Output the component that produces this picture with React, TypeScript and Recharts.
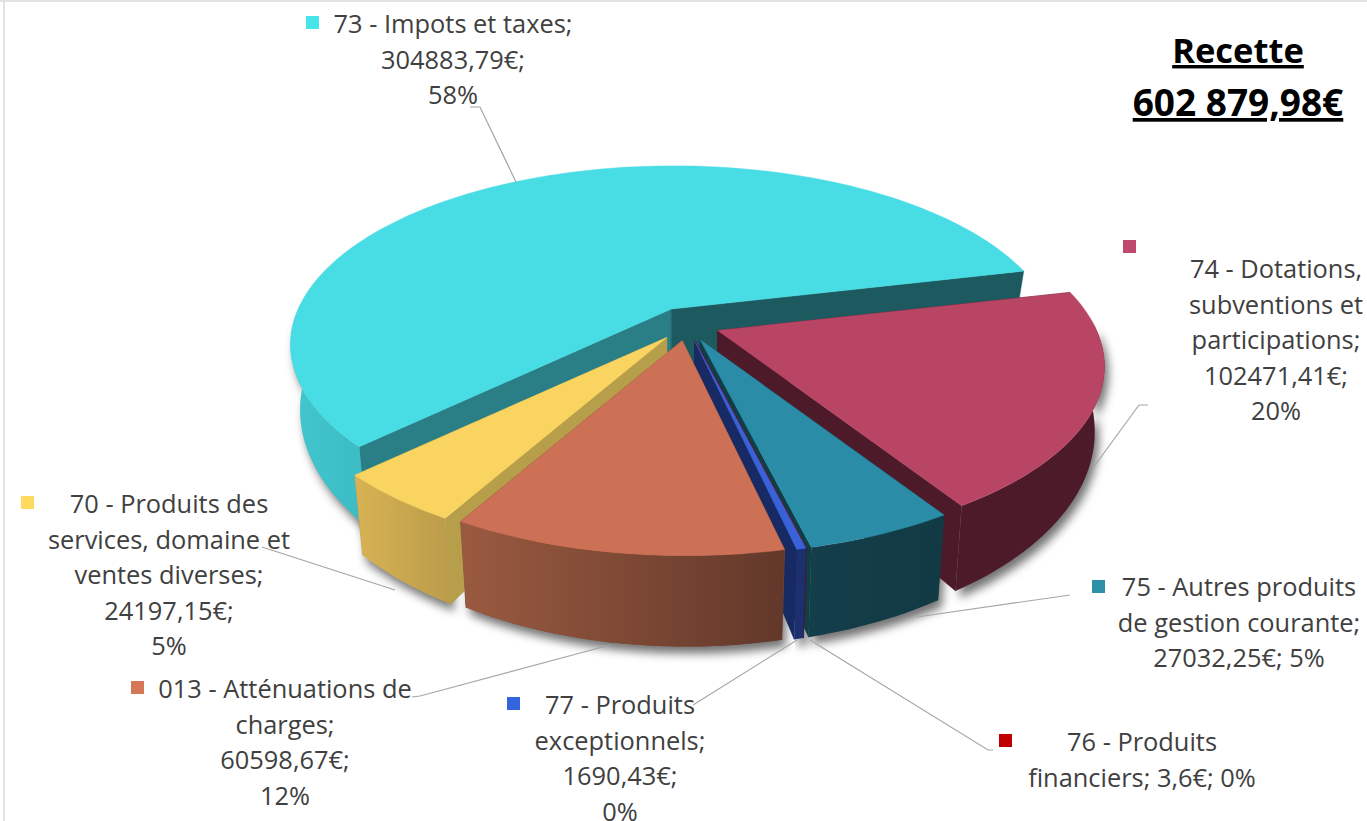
import { Pie, PieChart } from "recharts";

const categories = [
	"73 - Impots et taxes",
	"74 - Dotations, subventions et participations",
	"75 - Autres produits de gestion courante",
	"76 - Produits financiers",
	"77 - Produits exceptionnels",
	"013 - Atténuations de charges",
	"70 - Produits des services, domaine et ventes diverses",
];
const amounts = [304883.79, 102471.41, 27032.25, 3.6, 1690.43, 60598.67, 24197.15];
const labelLines = [
	["73 - Impots et taxes;", "304883,79€;", "58%"],
	["74 - Dotations,", "subventions et", "participations;", "102471,41€;", "20%"],
	["75 - Autres produits", "de gestion courante;", "27032,25€; 5%"],
	["76 - Produits", "financiers; 3,6€; 0%"],
	["77 - Produits", "exceptionnels;", "1690,43€;", "0%"],
	["013 - Atténuations de", "charges;", "60598,67€;", "12%"],
	["70 - Produits des", "services, domaine et", "ventes diverses;", "24197,15€;", "5%"],
];
const titleLines = ["Recette", "602 879,98€"];

const topColors = ["#48dce4", "#b94565", "#2a8ca6", "#c00000", "#3a62d8", "#cc7155", "#fad461"];
const markerColors = ["#48e4ec", "#c04a6e", "#2b90a8", "#c00000", "#3366dd", "#d7775a", "#fedb5e"];
const wallFrom = ["#42c6ce", "#4d1a2a", "#143e49", "#7a0000", "#1c3070", "#9a5a40", "#d7b354"];
const wallTo = ["#3cbcc4", "#4d1a2a", "#113a45", "#7a0000", "#1c3070", "#62382a", "#bb9c4a"];
const startWall = ["#2a7f86", "#4d1a2a", "#0f3d48", "#7a0000", "#172a63", "#7a4a38", "#b79e4a"];
const endWall = ["#1c5a60", "#4d1a2a", "#0f3d48", "#7a0000", "#172a63", "#7a4a38", "#b79e4a"];

// text block centre, first baseline, marker corner, leader line, one entry per slice
const labelLayout = [
	{ x: 453, y: 33, mx: 306, my: 16, line: "470,107 480,107 516,182" },
	{ x: 1276, y: 278, mx: 1123, my: 240, line: "1148,405 1139,405 1093,468" },
	{ x: 1239, y: 596, mx: 1092, my: 580, line: "1070,595 917,617" },
	{ x: 1142, y: 751, mx: 999, my: 734, line: "993,750 988,750 810,640" },
	{ x: 620, y: 714, mx: 507, my: 697, line: "693,705 797,640" },
	{ x: 285, y: 698, mx: 131, my: 681, line: "412,697 420,696 610,645" },
	{ x: 169, y: 513, mx: 21, my: 496, line: "262,547 395,590" },
];

const chartData = categories.map((name, i) => ({ name, value: amounts[i] }));

const ORANGE = 5;
const TILT = 0.457;
const PERSPECTIVE = 0.2;
const SIDE_PERSPECTIVE = 0.008;
const DEPTH_NEAR = 95;
const DEPTH_CENTRE = 60;
const FRONT_REACH = 207;
const DEPTH_SCALE = 0.975;
const EXPLODE_X = 33;
const EXPLODE_Y = 17;
const FONT = "'Open Sans', sans-serif";

type Pt = [number, number];

function toPath(points: Pt[]) {
	return "M" + points.map((p) => `${p[0].toFixed(1)} ${p[1].toFixed(1)}`).join("L") + "Z";
}

function sliceGeometry(props: any) {
	const { cx, cy, outerRadius, startAngle, endAngle } = props;
	const mid = (((startAngle + endAngle) / 2) * Math.PI) / 180;
	const apex: Pt = [cx + EXPLODE_X * Math.cos(mid), cy - EXPLODE_Y * Math.sin(mid)];
	const steps = Math.ceil(Math.abs(startAngle - endAngle) / 1.5) + 1;
	const rim: Pt[] = [];
	const front: Pt[] = [];
	for (let i = 0; i <= steps; i++) {
		const a = ((startAngle + ((endAngle - startAngle) * i) / steps) * Math.PI) / 180;
		const u = Math.cos(a);
		const v = -Math.sin(a);
		const w = 1 - PERSPECTIVE * v - SIDE_PERSPECTIVE * u;
		const p: Pt = [apex[0] + (outerRadius * u) / w, apex[1] + (outerRadius * TILT * v) / w];
		rim.push(p);
		if (v > -0.05) front.push(p);
	}
	// walls get shorter towards the back of the pie
	const drop = (p: Pt): Pt => {
		const dy = p[1] - apex[1];
		const depth = DEPTH_CENTRE + ((DEPTH_NEAR - DEPTH_CENTRE) * dy) / FRONT_REACH;
		return [apex[0] + (p[0] - apex[0]) * DEPTH_SCALE, apex[1] + dy * DEPTH_SCALE + depth];
	};
	return { apex, rim, front, drop };
}

function ShadowSlice(props: any) {
	const { front, drop } = sliceGeometry(props);
	const outline = [...front, ...front.map(drop).reverse()];
	return (
		<path
			d={toPath(outline)}
			transform="translate(4 7)"
			fill="#000"
			fillOpacity={0.55}
			filter="url(#pieShadow)"
		/>
	);
}

function Slice3D(props: any) {
	const { index } = props;
	const { apex, rim, front, drop } = sliceGeometry(props);
	const first = rim[0];
	const last = rim[rim.length - 1];
	return (
		<g>
			<path
				d={toPath([apex, first, drop(first), drop(apex)])}
				fill={startWall[index]}
				stroke={startWall[index]}
				strokeWidth={0.5}
			/>
			<path
				d={toPath([apex, last, drop(last), drop(apex)])}
				fill={endWall[index]}
				stroke={endWall[index]}
				strokeWidth={0.5}
			/>
			<path d={toPath([...front, ...front.map(drop).reverse()])} fill={`url(#wall${index})`} />
			<path d={toPath([apex, ...rim])} fill={topColors[index]} stroke={topColors[index]} strokeWidth={0.5} />
		</g>
	);
}

function OrangeOnTop(props: any) {
	return props.index === ORANGE ? <Slice3D {...props} /> : <g />;
}

function renderLabel(props: any) {
	const { index } = props;
	const spot = labelLayout[index];
	return (
		<g>
			<polyline points={spot.line} fill="none" stroke="#a6a6a6" strokeWidth={1.2} />
			<rect x={spot.mx} y={spot.my} width={13} height={13} fill={markerColors[index]} />
			<text
				x={spot.x}
				y={spot.y}
				textAnchor="middle"
				fontFamily={FONT}
				fontSize={25.4}
				fill="#404040"
				stroke="none"
			>
				{labelLines[index].map((line, i) => (
					<tspan key={line} x={spot.x} y={spot.y + i * 35.5}>
						{line}
					</tspan>
				))}
			</text>
		</g>
	);
}

export default function App() {
	const pieProps = {
		data: chartData,
		dataKey: "value",
		nameKey: "name",
		cx: 687,
		cy: 324,
		innerRadius: 0,
		outerRadius: 376,
		startAngle: 224,
		endAngle: -136,
		stroke: "none",
		isAnimationActive: false,
	};
	return (
		<div style={{ position: "absolute", left: 0, top: 0, width: 1367, height: 821, background: "#fff" }}>
			<div style={{ position: "absolute", left: 0, top: 0, width: 1367, height: 2, background: "#e2e2e2" }} />
			<div style={{ position: "absolute", left: 3, top: 0, width: 2, height: 821, background: "#e2e2e2" }} />
			<PieChart
				width={1367}
				height={821}
				margin={{ top: 0, right: 0, bottom: 0, left: 0 }}
				style={{ position: "absolute", left: 0, top: 0 }}
			>
				<defs>
					<filter id="pieShadow" x="-20%" y="-20%" width="140%" height="140%">
						<feGaussianBlur stdDeviation="5" />
					</filter>
					{wallFrom.map((color, i) => (
						<linearGradient id={`wall${i}`} key={color + i} x1="0" y1="0" x2="1" y2="0">
							<stop offset="0%" stopColor={color} />
							<stop offset="100%" stopColor={wallTo[i]} />
						</linearGradient>
					))}
				</defs>
				<Pie {...pieProps} shape={ShadowSlice} />
				<Pie {...pieProps} shape={Slice3D} label={renderLabel} labelLine={false} />
				<Pie {...pieProps} shape={OrangeOnTop} />
				<text
					x={1238}
					y={63}
					textAnchor="middle"
					fontFamily={FONT}
					fontSize={34.5}
					fontWeight={700}
					fill="#000"
					textDecoration="underline"
				>
					{titleLines[0]}
				</text>
				<text
					x={1238}
					y={116}
					textAnchor="middle"
					fontFamily={FONT}
					fontSize={37}
					fontWeight={700}
					fill="#000"
					textDecoration="underline"
				>
					{titleLines[1]}
				</text>
			</PieChart>
		</div>
	);
}
